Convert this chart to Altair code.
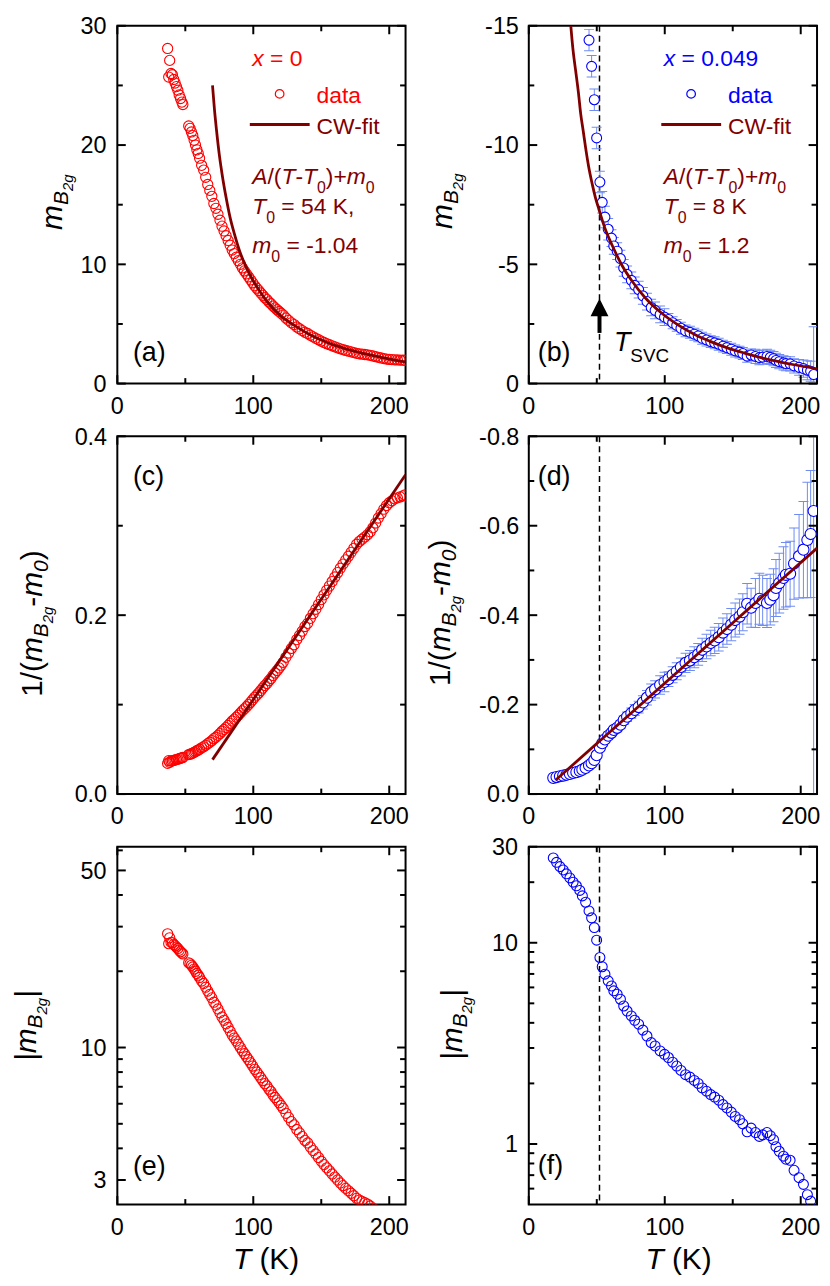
import altair as alt
import pandas as pd

FONT = "Liberation Sans"
RED = "#ff0000"
BLUE = "#0000ff"
FIT = "#800000"
ERRC = "#6f8cf2"
W, H = 290, 360
XMAX = 212

# ---------------- data: x = 0 ----------------
T_x0 = [37.0, 37.8, 38.5, 39.5, 40.5, 41.5, 42.5, 43.5, 44.5, 45.5, 46.5, 47.5, 48.2,
        52.5, 53.5, 54.5, 55.5, 56.5, 57.5, 58.5, 59.5, 60.5,
        62.0, 63.5, 65.0, 66.5, 68.0, 69.5, 71.0, 72.5, 74.0, 75.5, 77.0, 78.5, 80.0, 81.5,
        83.0, 84.5, 86.0, 87.5, 89.0, 90.5, 92.0, 93.5, 95.0, 96.5, 98.0, 99.5, 101.0, 102.5,
        104.0, 105.5, 107.0, 108.5, 110.0, 111.5, 113.0, 114.5, 116.0, 117.5, 119.0, 120.5, 122.0,
        124.0, 126.0, 128.0, 130.0, 132.0, 134.0, 136.0, 138.0, 140.0, 142.0, 144.0, 146.0,
        148.0, 150.0, 152.0, 154.0, 156.0, 158.0, 160.0, 162.0, 164.0, 166.0, 168.0, 170.0,
        172.0, 174.0, 176.0, 178.0, 180.0, 182.0, 184.0, 186.0, 188.0, 190.0, 192.0, 194.0,
        196.0, 198.0, 200.0, 202.0, 204.0, 206.0, 208.0, 210.0, 211.5]
m_x0 = [28.1, 25.7, 27.1, 26.0, 25.9, 25.5, 25.2, 24.9, 24.6, 24.2, 23.9, 23.6, 23.4,
        21.6, 21.4, 21.1, 20.8, 20.4, 20.0, 19.6, 19.3, 18.9,
        18.3, 17.9, 17.3, 16.7, 16.2, 15.7, 15.1, 14.7, 14.2, 13.7, 13.2, 12.8, 12.4, 12.0,
        11.6, 11.2, 10.9, 10.6, 10.3, 10.0, 9.7, 9.45, 9.2, 8.95, 8.7, 8.45, 8.2, 8.0,
        7.8, 7.6, 7.4, 7.2, 7.05, 6.85, 6.7, 6.5, 6.35, 6.2, 6.05, 5.9, 5.75,
        5.5, 5.3, 5.1, 4.95, 4.75, 4.6, 4.45, 4.3, 4.2, 4.05, 3.92, 3.8,
        3.68, 3.56, 3.45, 3.35, 3.26, 3.17, 3.08, 3.0, 2.92, 2.85, 2.78, 2.72,
        2.66, 2.6, 2.54, 2.5, 2.47, 2.44, 2.41, 2.37, 2.32, 2.26, 2.2, 2.15,
        2.1, 2.06, 2.03, 2.01, 1.99, 1.98, 1.97, 1.96, 1.95]
M0_x0 = -1.04
T_fit_x0 = [70, 71.5, 73, 75, 77, 80, 83, 86, 90, 95, 100, 105, 110, 120, 130, 140, 150,
            160, 170, 180, 190, 200, 212]
m_fit_x0 = [25.0, 22.9, 21.2, 19.2, 17.6, 15.6, 13.9, 12.6, 11.1, 9.7, 8.6, 7.7, 6.9, 5.7,
            4.9, 4.2, 3.65, 3.2, 2.85, 2.55, 2.3, 2.06, 1.83]
T_lin_x0 = [70, 212]
inv_fit_x0 = [0.0385, 0.357]

# ---------------- data: x = 0.049 ----------------
T_x049 = [18.0, 20.4, 22.9, 25.3, 27.7, 30.2, 32.6, 35.0, 37.5, 39.4, 41.8, 44.3, 46.2, 48.2,
          49.9, 52.3, 54.0, 56.0, 58.4, 60.8, 62.5, 65.0, 67.4, 69.8, 72.3, 75.4, 77.9, 80.8,
          83.9, 86.9, 90.0, 92.9, 96.6, 99.8, 102.7, 105.8, 108.8, 111.9, 115.3, 118.5, 121.7,
          124.6, 127.5, 130.7, 133.8, 136.7, 139.7, 142.8, 145.7, 148.9, 151.8, 155.0, 157.4,
          160.6, 163.5, 166.7, 169.6, 172.0, 175.2, 177.6, 180.0, 181.8, 184.2, 187.3, 189.1,
          192.2, 195.1, 198.8, 202.0, 204.9, 207.3, 209.5]
m_x049 = [-26.4, -25.1, -23.9, -23.0, -22.0, -21.0, -20.0, -19.2, -18.2, -17.1, -15.9, -14.4,
          -13.3, -11.9, -10.3, -8.45, -7.6, -6.98, -6.47, -6.1, -5.77, -5.55, -5.24, -4.85,
          -4.58, -4.33, -4.12, -3.94, -3.68, -3.44, -3.19, -3.07, -2.9, -2.79, -2.69, -2.55,
          -2.44, -2.32, -2.21, -2.15, -2.07, -2.0, -1.90, -1.83, -1.76, -1.71, -1.65, -1.57,
          -1.51, -1.44, -1.37, -1.32, -1.26, -1.15, -1.20, -1.14, -1.09, -1.11, -1.14, -1.10,
          -1.05, -0.97, -0.92, -0.87, -0.84, -0.83, -0.74, -0.68, -0.63, -0.56, -0.52, -0.38]
err_x049 = [0.45, 0.45, 0.45, 0.45, 0.45, 0.45, 0.45, 0.45, 0.45, 0.45, 0.45, 0.45, 0.45,
            0.45, 0.45, 0.45, 0.45, 0.45, 0.45, 0.35, 0.35, 0.35, 0.35, 0.35, 0.35, 0.35,
            0.35, 0.35, 0.35, 0.35, 0.35, 0.35, 0.35, 0.35, 0.25, 0.25, 0.25, 0.25, 0.25,
            0.25, 0.25, 0.25, 0.25, 0.25, 0.25, 0.25, 0.25, 0.25, 0.25, 0.25, 0.25, 0.25,
            0.25, 0.25, 0.25, 0.3, 0.3, 0.3, 0.3, 0.3, 0.3, 0.3, 0.3, 0.3, 0.3, 0.3, 0.3,
            0.33, 0.36, 0.4, 0.42, 2.0]
M0_x049 = 1.2
T_fit_x049 = [30.9, 32.5, 34.5, 36.5, 38.2, 40, 41.8, 44, 46.7, 49, 51.6, 56.4, 61.3, 68.6,
              75.9, 85.6, 97.8, 110, 122.1, 134.3, 146.5, 158.6, 170.8, 183, 195.1, 212]
m_fit_x049 = [-15.0, -14.0, -13.1, -12.2, -11.3, -10.6, -9.88, -9.1, -8.35, -7.8, -7.3, -6.45,
              -5.8, -4.95, -4.3, -3.6, -2.95, -2.45, -2.06, -1.75, -1.49, -1.28, -1.09,
              -0.93, -0.79, -0.62]
T_lin_x049 = [20, 212]
inv_fit_x049 = [-0.032, -0.550]
T_SVC = [52]

# ---------------- tick values and labels ----------------
X_MAJOR, X_LABELS = [0, 100, 200], ["0", "100", "200"]
X_MINOR = [50, 150]
YA_MAJOR, YA_LABELS, YA_MINOR = [0, 10, 20, 30], ["0", "10", "20", "30"], [5, 15, 25]
YB_MAJOR, YB_LABELS, YB_MINOR = [0, -5, -10, -15], ["0", "-5", "-10", "-15"], [-2.5, -7.5, -12.5]
YC_MAJOR, YC_LABELS, YC_MINOR = [0, 0.2, 0.4], ["0.0", "0.2", "0.4"], [0.1, 0.3]
YD_MAJOR, YD_LABELS = [0, -0.2, -0.4, -0.6, -0.8], ["0.0", "-0.2", "-0.4", "-0.6", "-0.8"]
YD_MINOR = [-0.1, -0.3, -0.5, -0.7]
YE_MAJOR, YE_LABELS = [3, 10, 50], ["3", "10", "50"]
YE_MINOR = [4, 5, 6, 7, 8, 9, 20, 30, 40, 60]
YF_MAJOR, YF_LABELS = [1, 10, 30], ["1", "10", "30"]
YF_MINOR = [0.6, 0.7, 0.8, 0.9, 2, 3, 4, 5, 6, 7, 8, 9, 20]

# ---------------- tables ----------------
df_x0 = pd.DataFrame({"T": T_x0, "m": m_x0})
df_fit_x0 = pd.DataFrame({"T": T_fit_x0, "m": m_fit_x0})
df_lin_x0 = pd.DataFrame({"T": T_lin_x0, "v": inv_fit_x0})
df_x049 = pd.DataFrame({"T": T_x049, "m": m_x049, "e": err_x049})
df_fit_x049 = pd.DataFrame({"T": T_fit_x049, "m": m_fit_x049})
df_lin_x049 = pd.DataFrame({"T": T_lin_x049, "v": inv_fit_x049})
df_svc = pd.DataFrame({"T": T_SVC})
ONE = pd.DataFrame({"k": [0]})

XS = alt.Scale(domain=[0, XMAX], nice=False, zero=False)
YA = alt.Scale(domain=[0, 30], nice=False, zero=False)
YB = alt.Scale(domain=[-15, 0], reverse=True, nice=False, zero=False)
YC = alt.Scale(domain=[0, 0.4], nice=False, zero=False)
YD = alt.Scale(domain=[-0.8, 0], reverse=True, nice=False, zero=False)
YE = alt.Scale(type="log", domain=[2.4, 62], nice=False)
YF = alt.Scale(type="log", domain=[0.5, 30], nice=False)

LFS = 23.5  # tick-label font size
TK = 2.0    # tick stroke width
LMAJ, LMIN = 8.5, 5.5


def xenc(field="T"):
    return alt.X(f"{field}:Q", scale=XS, axis=None)


def yenc(field, scale):
    return alt.Y(f"{field}:Q", scale=scale, axis=None)


def frame_ticks(yscale, ymaj, ylab, ymin, ybot, ytop, log=False, ypad=10.5):
    """Inward ticks on all four sides; tick ends are expressed in data units of each scale."""
    def ypix(p):  # data value located p pixels above the bottom edge
        f = p / H
        return ybot * (ytop / ybot) ** f if log else ybot + (ytop - ybot) * f

    kx = XMAX / W
    out = []
    for vals, L in ((X_MAJOR, LMAJ), (X_MINOR, LMIN)):
        n = len(vals)
        d = pd.DataFrame({"tv": vals, "b1": [ypix(0)] * n, "b2": [ypix(L)] * n,
                          "t1": [ypix(H)] * n, "t2": [ypix(H - L)] * n})
        base = alt.Chart(d).mark_rule(color="black", strokeWidth=TK)
        out.append(base.encode(x=xenc("tv"), y=yenc("b1", yscale), y2="b2:Q"))
        out.append(base.encode(x=xenc("tv"), y=yenc("t1", yscale), y2="t2:Q"))
    for vals, L in ((ymaj, LMAJ), (ymin, LMIN)):
        n = len(vals)
        d = pd.DataFrame({"tv": vals, "l1": [0.0] * n, "l2": [L * kx] * n,
                          "r1": [float(XMAX)] * n, "r2": [XMAX - L * kx] * n})
        base = alt.Chart(d).mark_rule(color="black", strokeWidth=TK)
        out.append(base.encode(y=yenc("tv", yscale), x=xenc("l1"), x2="l2:Q"))
        out.append(base.encode(y=yenc("tv", yscale), x=xenc("r1"), x2="r2:Q"))
    # tick labels
    out.append(alt.Chart(pd.DataFrame({"tv": X_MAJOR, "lbl": X_LABELS})).mark_text(
        font=FONT, fontSize=LFS, color="black", align="center", baseline="middle", dy=1.4
    ).encode(x=xenc("tv"), y=alt.value(H + 22), text="lbl:N"))
    out.append(alt.Chart(pd.DataFrame({"tv": ymaj, "lbl": ylab})).mark_text(
        font=FONT, fontSize=LFS, color="black", align="right", baseline="middle", dy=1.4
    ).encode(y=yenc("tv", yscale), x=alt.value(-ypad), text="lbl:N"))
    return out


EM = {" ": 0.278, "(": 0.333, ")": 0.333, "+": 0.584, ",": 0.278, "-": 0.333, ".": 0.278,
      "/": 0.278, "=": 0.584, "|": 0.26, "A": 0.667, "B": 0.667, "C": 0.722, "K": 0.667,
      "S": 0.667, "T": 0.611, "V": 0.667, "W": 0.944, "a": 0.556, "d": 0.556, "f": 0.278,
      "g": 0.556, "i": 0.222, "m": 0.833, "t": 0.278, "x": 0.5, "b": 0.556, "c": 0.5, "e": 0.556}


def tw(s, size):
    return sum(EM.get(c, 0.556) for c in s) * size


def rich(pieces, x, y, angle=0, center=False):
    total = sum(tw(p[0], p[1]) for p in pieces)
    pos = -total / 2 if center else 0.0
    out = []
    for txt, size, italic, shift, col in pieces:
        core = txt.strip(" ")
        lead = len(txt) - len(txt.lstrip(" "))
        trail = len(txt) - lead - len(core)
        pos += lead * EM[" "] * size
        if angle == 0:
            px, py = x + pos, y + shift
        else:
            px, py = x + shift, y - pos
        out.append(alt.Chart(ONE).mark_text(
            text=core, font=FONT, fontSize=size, fontStyle="italic" if italic else "normal",
            align="left", baseline="alphabetic", angle=angle, color=col
        ).encode(x=alt.value(px), y=alt.value(py)))
        pos += tw(core, size) + trail * EM[" "] * size
    return out


K = "black"
T_M = [("m", 30, True, 0, K), ("B", 21, True, 6, K), ("2g", 15, True, 11, K)]
T_INV = [("1/(", 30, False, 0, K), ("m", 30, True, 0, K), ("B", 21, True, 6, K),
         ("2g", 15, True, 11, K), ("-", 30, False, 0, K), ("m", 30, True, 0, K),
         ("0", 21, True, 6, K), (")", 30, False, 0, K)]
T_ABS = [("|", 30, True, 0, K), ("m", 30, True, 0, K), ("B", 21, True, 6, K),
         ("2g", 15, True, 11, K), ("|", 30, True, 0, K)]
T_X = [("T", 30, True, 0, K), (" (K)", 30, False, 0, K)]


def ylabel(pieces, bx, cy):
    return rich(pieces, bx, cy, angle=270, center=True)


def legend_block(col_x, x_value, T0, m0):
    out = []
    out += rich([("x", 23, True, 0, col_x), (" = " + x_value, 23, False, 0, col_x)], 135.7, 40.7)
    out.append(alt.Chart(ONE).mark_point(shape="circle", filled=False, stroke=col_x, strokeWidth=1.2,
                                         size=75, opacity=1).encode(x=alt.value(163.3), y=alt.value(68.5)))
    out += rich([("data", 23, False, 0, col_x)], 200.5, 77.3)
    out.append(alt.Chart(ONE).mark_rule(color=FIT, strokeWidth=3).encode(
        x=alt.value(133.3), x2=alt.value(193.5), y=alt.value(99.3)))
    out += rich([("CW-fit", 23, False, 0, FIT)], 200.5, 109)
    out += rich([("A", 23, True, 0, FIT), ("/(", 23, False, 0, FIT), ("T", 23, True, 0, FIT),
                 ("-", 23, False, 0, FIT), ("T", 23, True, 0, FIT), ("0", 16, False, 9, FIT),
                 (")+", 23, False, 0, FIT), ("m", 23, True, 0, FIT), ("0", 16, False, 9, FIT)],
                135.7, 159)
    out += rich([("T", 23, True, 0, FIT), ("0", 16, False, 9, FIT), (" = " + T0, 23, False, 0, FIT)],
                135.7, 189.7)
    out += rich([("m", 23, True, 0, FIT), ("0", 16, False, 9, FIT), (" = " + m0, 23, False, 0, FIT)],
                135.7, 229)
    return out


def red_points(df):
    return alt.Chart(df).mark_point(shape="circle", filled=False, stroke=RED, strokeWidth=1.1,
                                    size=105, opacity=1, clip=True)


def dashed():
    return alt.Chart(df_svc).mark_rule(color="black", strokeWidth=1.5, strokeDash=[6, 4]).encode(
        x=xenc(), y=alt.value(0), y2=alt.value(H))


# ---------------- panel (a) ----------------
pa_layers = [
    alt.Chart(ONE).mark_rule(color="white").encode(x=alt.value(-108.5), y=alt.value(0), y2=alt.value(1)),
    alt.Chart(ONE).mark_rule(color="white").encode(x=alt.value(0), x2=alt.value(1), y=alt.value(-12.5)),
    red_points(df_x0).encode(x=xenc(), y=yenc("m", YA)),
    alt.Chart(df_fit_x0).mark_line(color=FIT, strokeWidth=2.8, clip=True, interpolate="monotone").encode(
        x=xenc(), y=yenc("m", YA)),
]
pa_layers += frame_ticks(YA, YA_MAJOR, YA_LABELS, YA_MINOR, 0, 30, ypad=11)
pa_layers += legend_block(RED, "0", "54 K,", "-1.04")
pa_layers += rich([("(a)", 27, False, 0, K)], 15.7, 336.8)
pa_layers += ylabel(T_M, -55.3, 177.5)
pa = alt.layer(*pa_layers).properties(width=W, height=H)

# ---------------- panel (b) ----------------
b_base = alt.Chart(df_x049).transform_calculate(lo="datum.m - datum.e", hi="datum.m + datum.e")
pb_layers = [
    dashed(),
    b_base.mark_rule(color=ERRC, strokeWidth=1, clip=True).encode(
        x=xenc(), y=yenc("lo", YB), y2="hi:Q"),
    b_base.mark_tick(color=ERRC, orient="horizontal", size=10, thickness=1, opacity=1, clip=True).encode(
        x=xenc(), y=yenc("lo", YB)),
    b_base.mark_tick(color=ERRC, orient="horizontal", size=10, thickness=1, opacity=1, clip=True).encode(
        x=xenc(), y=yenc("hi", YB)),
    alt.Chart(df_x049).mark_point(shape="circle", fill="white", stroke=BLUE, strokeWidth=1.1, size=100,
                                  opacity=1, fillOpacity=1, clip=True).encode(
        x=xenc(), y=yenc("m", YB)),
    alt.Chart(df_fit_x049).mark_line(color=FIT, strokeWidth=2.8, clip=True, interpolate="monotone").encode(
        x=xenc(), y=yenc("m", YB)),
    alt.Chart(df_svc).mark_rule(color="black", strokeWidth=4).encode(
        x=xenc(), y=alt.value(309), y2=alt.value(290)),
    alt.Chart(df_svc).mark_point(shape="M0,-1L0.5,0L-0.5,0Z", filled=True, fill="black", size=1296,
                                 strokeWidth=0, opacity=1).encode(
        x=xenc(), y=alt.value(292.3)),
]
pb_layers += frame_ticks(YB, YB_MAJOR, YB_LABELS, YB_MINOR, 0, -15, ypad=10)
pb_layers += legend_block(BLUE, "0.049", "8 K", "1.2")
pb_layers += rich([("(b)", 27, False, 0, K)], 9, 336.8)
pb_layers += rich([("T", 27, True, 0, K), ("SVC", 19, False, 11, K)], 85.7, 327.3)
pb_layers += ylabel(T_M, -77.6, 176.5)
pb = alt.layer(*pb_layers).properties(width=W, height=H)

# ---------------- panel (c) ----------------
pc_layers = [
    red_points(df_x0).transform_calculate(v=f"1/(datum.m - ({M0_x0}))").encode(
        x=xenc(), y=yenc("v", YC)),
    alt.Chart(df_lin_x0).mark_line(color=FIT, strokeWidth=2.8, clip=True).encode(
        x=xenc(), y=yenc("v", YC)),
]
pc_layers += frame_ticks(YC, YC_MAJOR, YC_LABELS, YC_MINOR, 0, 0.4, ypad=10.3)
pc_layers += rich([("(c)", 27, False, 0, K)], 15.7, 48.6)
pc_layers += ylabel(T_INV, -75.3, 188.5)
pc = alt.layer(*pc_layers).properties(width=W, height=H)

# ---------------- panel (d) ----------------
d_base = alt.Chart(df_x049).transform_calculate(
    v=f"1/(datum.m - {M0_x049})"
).transform_calculate(
    dv=f"datum.e / pow(datum.m - {M0_x049}, 2)"
).transform_calculate(
    lo="datum.v - datum.dv", hi="datum.v + datum.dv"
)
pd_layers = [
    dashed(),
    d_base.mark_rule(color=ERRC, strokeWidth=1, clip=True).encode(x=xenc(), y=yenc("lo", YD), y2="hi:Q"),
    d_base.mark_tick(color=ERRC, orient="horizontal", size=10, thickness=1, opacity=1, clip=True).encode(
        x=xenc(), y=yenc("lo", YD)),
    d_base.mark_tick(color=ERRC, orient="horizontal", size=10, thickness=1, opacity=1, clip=True).encode(
        x=xenc(), y=yenc("hi", YD)),
    d_base.mark_point(shape="circle", fill="white", stroke=BLUE, strokeWidth=1.1, size=125,
                      opacity=1, fillOpacity=1, clip=True).encode(x=xenc(), y=yenc("v", YD)),
    alt.Chart(df_lin_x049).mark_line(color=FIT, strokeWidth=2.8, clip=True).encode(
        x=xenc(), y=yenc("v", YD)),
]
pd_layers += frame_ticks(YD, YD_MAJOR, YD_LABELS, YD_MINOR, 0, -0.8, ypad=9.5)
pd_layers += rich([("(d)", 27, False, 0, K)], 9, 48.6)
pd_layers += ylabel(T_INV, -79.3, 177.7)
pdd = alt.layer(*pd_layers).properties(width=W, height=H)

# ---------------- panel (e) ----------------
pe_layers = [red_points(df_x0).encode(x=xenc(), y=yenc("m", YE))]
pe_layers += frame_ticks(YE, YE_MAJOR, YE_LABELS, YE_MINOR, 2.4, 62, log=True, ypad=11)
pe_layers += rich([("(e)", 27, False, 0, K)], 15.7, 330.6)
pe_layers += ylabel(T_ABS, -82, 180)
pe_layers += rich(T_X, 116.3, 425)
pe = alt.layer(*pe_layers).properties(width=W, height=H)

# ---------------- panel (f) ----------------
pf_layers = [
    dashed(),
    alt.Chart(df_x049).transform_calculate(am="abs(datum.m)").mark_point(
        shape="circle", filled=False, stroke=BLUE, strokeWidth=1.1, size=100, opacity=1, clip=True).encode(
        x=xenc(), y=yenc("am", YF)),
]
pf_layers += frame_ticks(YF, YF_MAJOR, YF_LABELS, YF_MINOR, 0.5, 30, log=True, ypad=11)
pf_layers += rich([("(f)", 27, False, 0, K)], 9, 329)
pf_layers += ylabel(T_ABS, -67.7, 179)
pf_layers += rich(T_X, 117.3, 425)
pf = alt.layer(*pf_layers).properties(width=W, height=H)

chart = alt.concat(
    pa, pb, pc, pdd, pe, pf,
    columns=2,
    spacing={"row": 53, "column": 124},
    bounds="flush",
).properties(padding=0).configure_view(stroke="black", strokeWidth=2)

chart.save("out.html", embed_options={"renderer": "svg", "actions": False})
